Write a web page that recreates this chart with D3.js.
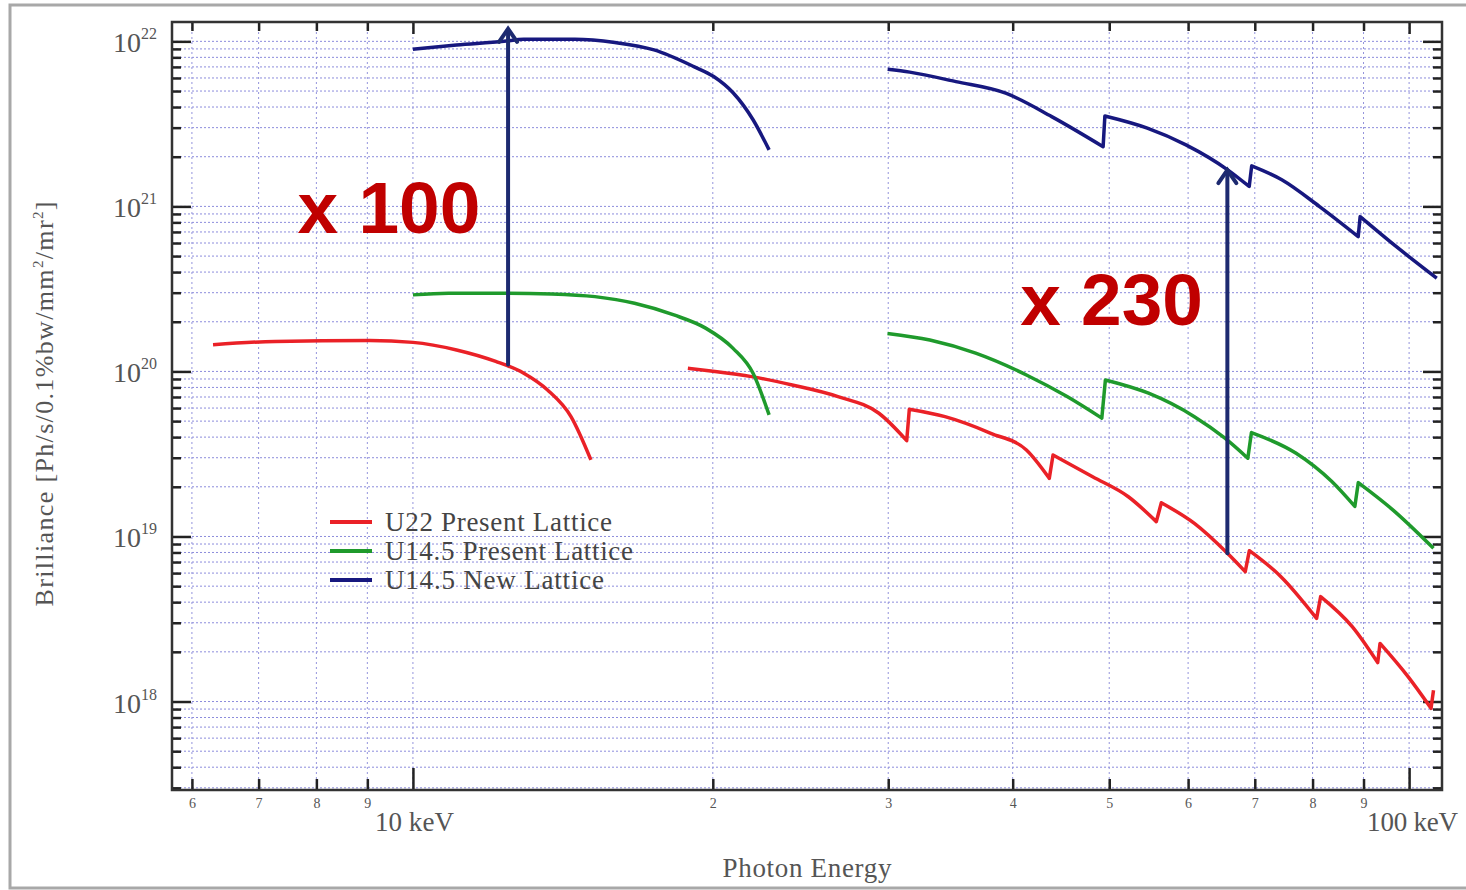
<!DOCTYPE html>
<html>
<head>
<meta charset="utf-8">
<script src="https://cdn.jsdelivr.net/npm/d3@7"></script>
<style>
  body { margin: 0; background: #fff; }
  svg text { font-family: "Liberation Serif", "DejaVu Serif", serif; }
</style>
</head>
<body>
<div id="chart"></div>
<script>
// Photon energy (keV) and brilliance (Ph/s/0.1%bw/mm^2/mr^2)
var u22Energy1 = [6.30, 7.27, 9.05, 10.0, 11.06, 12.11, 12.92, 13.65, 14.41, 15.09];
var u22Bril1 = [1.45e20, 1.52e20, 1.54e20, 1.50e20, 1.35e20, 1.15e20, 9.75e19, 7.72e19, 5.33e19, 2.91e19];

var u22Energy2 = [18.88, 19.91, 21.88, 24.03, 26.71, 29.36, 31.31, 31.50, 34.21, 38.03, 41.29, 43.53, 43.91,
  48.12, 52.26, 55.75, 56.40, 60.88, 65.71, 68.47, 69.13, 74.36, 80.75, 81.51, 87.68, 93.0, 93.5, 99.8, 105.2, 105.8];
var u22Bril2 = [1.046e20, 1.007e20, 9.30e19, 8.28e19, 7.04e19, 5.58e19, 3.81e19, 5.90e19, 5.32e19, 4.22e19, 3.34e19,
  2.25e19, 3.12e19, 2.30e19, 1.74e19, 1.23e19, 1.60e19, 1.20e19, 7.91e18, 6.12e18, 8.20e18, 5.71e18, 3.19e18,
  4.32e18, 2.84e18, 1.72e18, 2.25e18, 1.41e18, 9.10e17, 1.17e18];

var u145Energy1 = [10.0, 10.86, 12.45, 13.78, 15.23, 16.69, 18.28, 19.67, 20.96, 21.95, 22.78];
var u145Bril1 = [2.91e20, 2.98e20, 2.98e20, 2.95e20, 2.84e20, 2.59e20, 2.20e20, 1.83e20, 1.38e20, 9.75e19, 5.45e19];

var u145Energy2 = [29.95, 33.03, 36.72, 41.29, 45.36, 49.15, 49.56, 54.76, 60.88, 65.33, 68.88, 69.46, 77.02,
  83.64, 88.21, 88.92, 96.3, 105.8];
var u145Bril2 = [1.70e20, 1.55e20, 1.29e20, 9.52e19, 7.04e19, 5.21e19, 8.88e19, 7.38e19, 5.32e19, 3.94e19,
  2.98e19, 4.26e19, 3.19e19, 2.15e19, 1.52e19, 2.12e19, 1.45e19, 8.48e18];

var newEnergy1 = [10.0, 11.06, 12.34, 12.92, 14.54, 15.95, 17.46, 19.14, 20.04, 20.96, 21.95, 22.78];
var newBril1 = [8.97e21, 9.5e21, 1.0e22, 1.03e22, 1.03e22, 9.84e21, 8.87e21, 7.03e21, 6.12e21, 4.88e21, 3.35e21, 2.2e21];

var newEnergy2 = [29.96, 31.53, 35.08, 39.36, 43.77, 49.3, 49.5, 54.6, 59.7, 65.8, 69.1, 69.5, 74.5, 81.3,
  88.9, 89.3, 97.1, 106.6];
var newBril2 = [6.78e21, 6.51e21, 5.70e21, 4.85e21, 3.50e21, 2.30e21, 3.53e21, 2.98e21, 2.36e21, 1.66e21,
  1.32e21, 1.76e21, 1.45e21, 9.97e20, 6.56e20, 8.67e20, 5.70e20, 3.67e20];

var legendLabels = ['U22 Present Lattice', 'U14.5 Present Lattice', 'U14.5 New Lattice'];
var legendWidths = [227, 248, 219];

// Gain arrows and their labels
var arrowEnergy = [12.46, 65.7];
var arrowFrom = [1.1e20, 7.9e18];
var arrowTo = [1.19e22, 1.66e21];
var gainText = ['x 100', 'x 230'];
var gainEnergy = [7.66, 40.7];
var gainBril = [6.91e20, 1.91e20];

// Axis ticks
var xMinorTicks = [6, 7, 8, 9, 20, 30, 40, 50, 60, 70, 80, 90];
var xMinorLabels = ['6', '7', '8', '9', '2', '3', '4', '5', '6', '7', '8', '9'];
var xMajorTicks = [10, 100];
var xMajorLabels = ['10 keV', '100 keV'];
var yDecades = [18, 19, 20, 21, 22];

var colours = ['#ea2127', '#1f9a2c', '#17187f'];
var arrowColour = '#1d2a70';

function createChart() {
  var canvasWidth = 1466;
  var canvasHeight = 890;
  var margin = { top: 22, right: 24, bottom: 100, left: 172 };
  var w = canvasWidth - margin.left - margin.right;
  var h = canvasHeight - margin.top - margin.bottom;

  var svg = d3.select('#chart')
    .append('svg')
    .attr('width', canvasWidth)
    .attr('height', canvasHeight);

  // Grey frame round the whole picture
  svg.append('rect')
    .attr('x', 10).attr('y', 5)
    .attr('width', canvasWidth).attr('height', 883)
    .style('fill', 'none')
    .style('stroke', '#a8a8a8')
    .style('stroke-width', 3);

  var inner = svg.append('g')
    .attr('transform', 'translate(' + margin.left + ',' + margin.top + ')');

  return [svg, inner, w, h];
}

// Split a curve where the brilliance jumps up (harmonic change), so each
// smooth piece can be splined on its own and the jump stays a straight step
function splitAtJumps(energy, bril) {
  var pieces = [[]];
  energy.forEach((e, i) => {
    if(i > 0 && bril[i] > bril[i - 1] * 1.2) {
      pieces.push([]);
    }
    pieces[pieces.length - 1].push([e, bril[i]]);
  });
  return pieces;
}

function renderChart(svg, inner, w, h) {
  var x = d3.scaleLog().domain([5.73, 107.9]).range([0, w]);
  var y = d3.scaleLog().domain([2.91e17, 1.31e22]).range([h, 0]);

  var yTicks = y.ticks();
  var yMajor = yDecades.map(d => Math.pow(10, d));
  var yMinor = yTicks.filter(t => yMajor.indexOf(t) < 0);

  // Dotted grid
  inner.selectAll('line.hgrid')
    .data(yTicks)
    .enter()
    .append('line')
    .attr('class', 'hgrid')
    .attr('x1', 0).attr('x2', w)
    .attr('y1', d => y(d)).attr('y2', d => y(d))
    .style('stroke', '#8c8cdc')
    .style('stroke-width', 1)
    .style('stroke-dasharray', '2,2');

  inner.selectAll('line.vgrid')
    .data(xMinorTicks.concat(xMajorTicks))
    .enter()
    .append('line')
    .attr('class', 'vgrid')
    .attr('y1', 0).attr('y2', h)
    .attr('x1', d => x(d)).attr('x2', d => x(d))
    .style('stroke', '#9494dc')
    .style('stroke-width', 1)
    .style('stroke-dasharray', '2,3');

  // Axes with inward ticks on all four sides
  function addAxis(axis, transform) {
    var g = inner.append('g')
      .attr('transform', transform)
      .call(axis);
    g.select('.domain').remove();
    g.selectAll('.tick line').style('stroke', '#222').style('stroke-width', 2.5);
    return g;
  }

  addAxis(d3.axisLeft(y).tickValues(yMinor).tickSize(-9).tickFormat(''), 'translate(0,0)');
  addAxis(d3.axisLeft(y).tickValues(yMajor).tickSize(-19).tickFormat(''), 'translate(0,0)');
  addAxis(d3.axisRight(y).tickValues(yMinor).tickSize(-9).tickFormat(''), 'translate(' + w + ',0)');
  addAxis(d3.axisRight(y).tickValues(yMajor).tickSize(-19).tickFormat(''), 'translate(' + w + ',0)');

  var bottomMinor = addAxis(
    d3.axisBottom(x).tickValues(xMinorTicks).tickSize(-11).tickPadding(8)
      .tickFormat((d, i) => xMinorLabels[i]),
    'translate(0,' + h + ')');
  bottomMinor.selectAll('text')
    .style('font-family', '"Liberation Serif", serif')
    .style('font-size', '14px')
    .style('fill', '#555');
  addAxis(d3.axisBottom(x).tickValues(xMajorTicks).tickSize(-22).tickFormat(''), 'translate(0,' + h + ')');
  addAxis(d3.axisTop(x).tickValues(xMinorTicks).tickSize(-9).tickFormat(''), 'translate(0,0)');
  addAxis(d3.axisTop(x).tickValues(xMajorTicks).tickSize(-12).tickFormat(''), 'translate(0,0)');

  inner.append('rect')
    .attr('width', w).attr('height', h)
    .style('fill', 'none')
    .style('stroke', '#333')
    .style('stroke-width', 2.5);

  // Decade labels 10^n on the left
  var decadeLabels = inner.selectAll('text.decade')
    .data(yDecades)
    .enter()
    .append('text')
    .attr('class', 'decade')
    .style('fill', '#555');
  decadeLabels.append('tspan')
    .attr('x', -59)
    .attr('y', d => y(Math.pow(10, d)) + 11)
    .style('font-size', '28px')
    .text('10');
  decadeLabels.append('tspan')
    .attr('x', -31)
    .attr('y', d => y(Math.pow(10, d)) - 2)
    .style('font-size', '16px')
    .text(d => d);

  // 10 keV / 100 keV labels
  inner.selectAll('text.major')
    .data(xMajorTicks)
    .enter()
    .append('text')
    .attr('class', 'major')
    .attr('x', (d, i) => x(d) + (i === 0 ? -38 : -42))
    .attr('y', h + 41)
    .attr('textLength', (d, i) => i === 0 ? 79 : 91)
    .style('font-size', '27px')
    .style('fill', '#555')
    .text((d, i) => xMajorLabels[i]);

  svg.append('text')
    .attr('x', 807)
    .attr('y', 877)
    .attr('text-anchor', 'middle')
    .attr('textLength', 169)
    .style('font-size', '27px')
    .style('fill', '#555')
    .text('Photon Energy');

  var yLabel = svg.append('text')
    .attr('transform', 'translate(53,404) rotate(-90)')
    .attr('text-anchor', 'middle')
    .attr('textLength', 405)
    .style('font-size', '26px')
    .style('fill', '#555');
  yLabel.append('tspan').text('Brilliance [Ph/s/0.1%bw/mm');
  yLabel.append('tspan').attr('dy', -10).style('font-size', '15px').text('2');
  yLabel.append('tspan').attr('dy', 10).text('/mr');
  yLabel.append('tspan').attr('dy', -10).style('font-size', '15px').text('2');
  yLabel.append('tspan').attr('dy', 10).text(']');

  // Curves
  var series = [
    { energy: u22Energy1, bril: u22Bril1, colour: colours[0] },
    { energy: u22Energy2, bril: u22Bril2, colour: colours[0] },
    { energy: u145Energy1, bril: u145Bril1, colour: colours[1] },
    { energy: u145Energy2, bril: u145Bril2, colour: colours[1] },
    { energy: newEnergy1, bril: newBril1, colour: colours[2] },
    { energy: newEnergy2, bril: newBril2, colour: colours[2] }
  ];

  var lineFunction = d3.line()
    .x(d => x(d[0]))
    .y(d => y(d[1]))
    .curve(d3.curveMonotoneX);

  inner.selectAll('path.curve')
    .data(series)
    .enter()
    .append('path')
    .attr('class', 'curve')
    .attr('d', s => {
      return splitAtJumps(s.energy, s.bril)
        .map((piece, i) => {
          var d = piece.length > 1 ? lineFunction(piece)
            : 'M' + x(piece[0][0]) + ',' + y(piece[0][1]);
          return i === 0 ? d : 'L' + d.slice(1);
        })
        .join('');
    })
    .style('fill', 'none')
    .style('stroke', s => s.colour)
    .style('stroke-width', 3.5)
    .style('stroke-linejoin', 'round');

  // Legend
  var legend = svg.append('g');
  legendLabels.forEach((label, i) => {
    var ly = 522 + i * 29;
    legend.append('line')
      .attr('x1', 330).attr('x2', 372)
      .attr('y1', ly).attr('y2', ly)
      .style('stroke', colours[i])
      .style('stroke-width', 4);
    legend.append('text')
      .attr('x', 385)
      .attr('y', ly + 9)
      .attr('textLength', legendWidths[i])
      .style('font-size', '27px')
      .style('fill', '#444')
      .text(label);
  });

  // Gain arrows
  arrowEnergy.forEach((e, i) => {
    var ax = x(e);
    var top = y(arrowTo[i]);
    var g = inner.append('g')
      .style('stroke', arrowColour)
      .style('stroke-width', 4)
      .style('fill', 'none')
      .style('stroke-linecap', 'round');
    g.append('line')
      .attr('x1', ax).attr('x2', ax)
      .attr('y1', y(arrowFrom[i])).attr('y2', top + 1);
    g.append('path')
      .attr('d', 'M' + (ax - 9) + ',' + (top + 13) + 'L' + ax + ',' + top + 'L' + (ax + 9) + ',' + (top + 13));
  });

  inner.selectAll('text.gain')
    .data(gainText)
    .enter()
    .append('text')
    .attr('class', 'gain')
    .attr('x', (d, i) => x(gainEnergy[i]))
    .attr('y', (d, i) => y(gainBril[i]))
    .style('font-family', '"Liberation Sans", Arial, sans-serif')
    .style('font-weight', 'bold')
    .style('font-size', '73px')
    .style('fill', '#c00000')
    .text(d => d);
}

function init() {
  var chartData = createChart();
  renderChart(chartData[0], chartData[1], chartData[2], chartData[3]);
}

window.onload = init;
</script>
</body>
</html>
